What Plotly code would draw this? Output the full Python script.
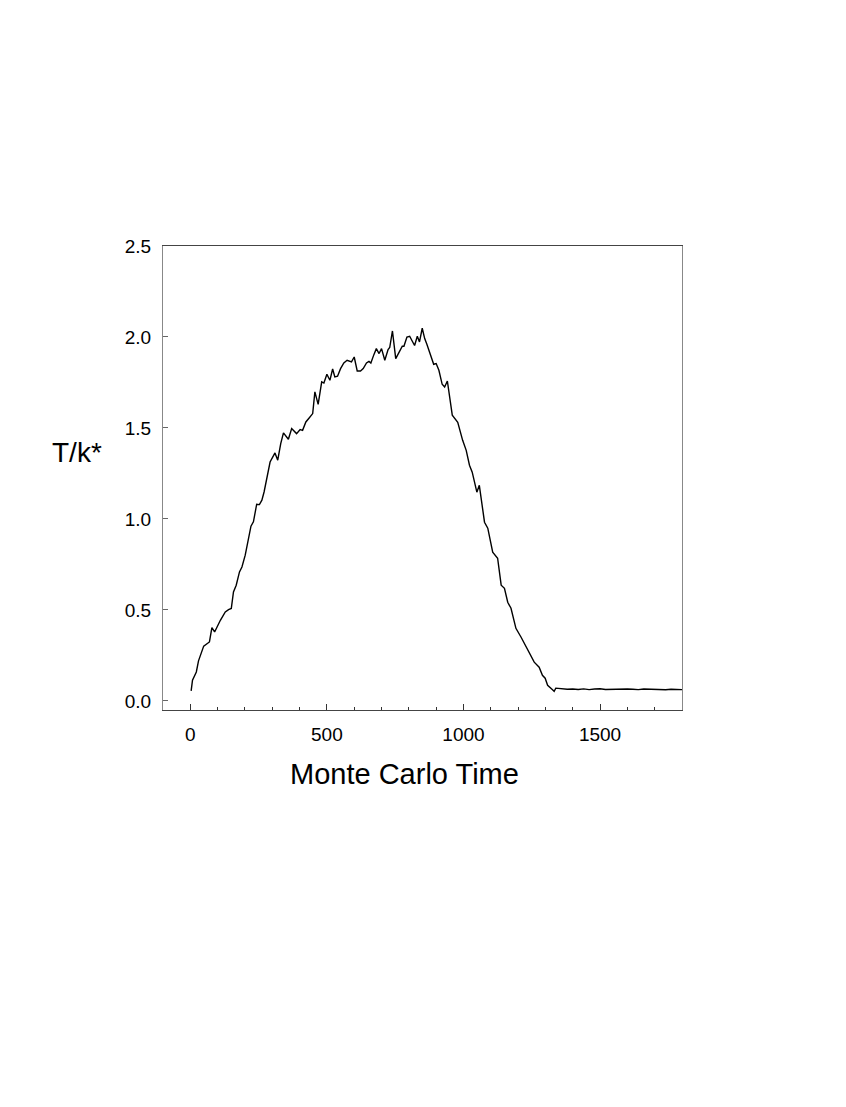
import plotly.graph_objects as go

# Monte Carlo time steps and reduced temperature T/k*
time = [3, 8, 22, 30, 49, 61, 70, 79, 89, 110, 128, 140, 150, 158, 168, 180, 189, 201, 209, 222,
        231, 243, 253, 262, 270, 280, 292, 310, 320, 331, 341, 359, 371, 389, 402, 411, 423, 435,
        448, 456, 468, 481, 489, 500, 511, 521, 529, 539, 550, 562, 574, 590, 600, 611, 623, 633,
        645, 654, 661, 672, 681, 691, 700, 712, 724, 730, 740, 752, 766, 776, 782, 793, 803, 821,
        831, 839, 849, 858, 866, 880, 891, 900, 910, 922, 931, 941, 959, 979, 997, 1010, 1022,
        1032, 1049, 1058, 1077, 1089, 1107, 1125, 1138, 1150, 1162, 1174, 1192, 1211, 1226, 1241,
        1259, 1277, 1289, 1299, 1308, 1324, 1332, 1338,
        1360, 1380, 1400, 1420, 1440, 1460, 1480, 1500, 1520, 1540, 1560, 1580, 1600, 1620, 1640,
        1660, 1680, 1700, 1720, 1740, 1760, 1780, 1800]
temp = [0.055, 0.114, 0.159, 0.220, 0.301, 0.312, 0.324, 0.403, 0.379, 0.443, 0.489, 0.502, 0.508,
        0.599, 0.636, 0.709, 0.736, 0.801, 0.865, 0.960, 0.984, 1.081, 1.079, 1.103, 1.148, 1.222,
        1.313, 1.363, 1.323, 1.414, 1.473, 1.438, 1.497, 1.469, 1.491, 1.487, 1.533, 1.555, 1.579,
        1.698, 1.630, 1.753, 1.747, 1.795, 1.762, 1.824, 1.780, 1.784, 1.826, 1.857, 1.872, 1.863,
        1.890, 1.813, 1.813, 1.826, 1.857, 1.866, 1.857, 1.903, 1.936, 1.909, 1.936, 1.872, 1.931,
        1.942, 2.033, 1.881, 1.923, 1.949, 1.949, 2.000, 2.004, 1.953, 2.004, 1.973, 2.048, 1.991,
        1.960, 1.894, 1.850, 1.854, 1.817, 1.740, 1.725, 1.758, 1.570, 1.531, 1.432, 1.377, 1.295,
        1.257, 1.147, 1.185, 0.982, 0.949, 0.817, 0.784, 0.636, 0.619, 0.542, 0.509, 0.399, 0.350,
        0.306, 0.262, 0.213, 0.185, 0.141, 0.125, 0.086, 0.064, 0.053, 0.070,
        0.066, 0.064, 0.065, 0.063, 0.066, 0.062, 0.065, 0.067, 0.063, 0.064, 0.066, 0.063, 0.065,
        0.064, 0.062, 0.065, 0.064, 0.066, 0.063, 0.061, 0.064, 0.063, 0.062]

x_ticks = [0, 500, 1000, 1500]
y_ticks = [0.0, 0.5, 1.0, 1.5, 2.0, 2.5]
y_tick_text = ["0.0", "0.5", "1.0", "1.5", "2.0", "2.5"]
x_title = "Monte Carlo Time"
y_title = "T/k*"

FONT = "Liberation Sans, Arial, Helvetica, sans-serif"

fig = go.Figure()
fig.add_trace(go.Scatter(x=time, y=temp, mode="lines",
                         line=dict(color="black", width=1.4), showlegend=False,
                         hoverinfo="skip"))

fig.update_layout(
    width=846, height=1107,
    margin=dict(l=155, r=172, t=238, b=405, pad=0),
    paper_bgcolor="white", plot_bgcolor="white",
    font=dict(family=FONT, size=19, color="black"),
    xaxis=dict(range=[-100, 1800], tickvals=x_ticks, ticks="inside", ticklen=6,
               tickcolor="#333", tickwidth=1, showgrid=False, zeroline=False,
               showline=True, linecolor="#444", linewidth=1, mirror=True,
               tickfont=dict(size=19), ticklabelstandoff=7,
               minor=dict(dtick=100, tick0=0, ticks="inside", ticklen=3,
                          tickcolor="#333", showgrid=False)),
    yaxis=dict(range=[-0.05, 2.5], tickvals=y_ticks, ticktext=y_tick_text,
               ticks="inside", ticklen=5, tickcolor="#666", tickwidth=1,
               showgrid=False, zeroline=False, showline=True, linecolor="#888",
               linewidth=1, mirror=True, tickfont=dict(size=19), ticklabelstandoff=7),
    annotations=[
        dict(text=x_title, xref="paper", yref="paper", x=0.4654, y=-0.1378,
             xanchor="center", yanchor="middle", showarrow=False,
             font=dict(family=FONT, size=29, color="black")),
        dict(text=y_title, xref="paper", yref="paper", x=-0.1655, y=0.556,
             xanchor="center", yanchor="middle", showarrow=False,
             font=dict(family=FONT, size=28, color="black")),
    ],
)

fig.write_html("out.html")
